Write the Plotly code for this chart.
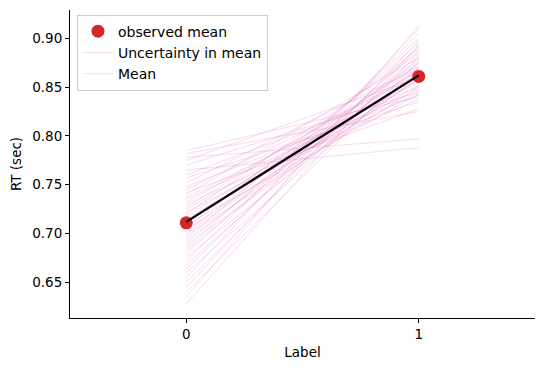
import plotly.graph_objects as go

labels = [0, 1]
observed_mean = [0.711, 0.861]
mean_line = [0.712, 0.862]

sample_start = [0.785, 0.782, 0.778, 0.775, 0.770, 0.765, 0.760, 0.757, 0.752, 0.748,
                0.745, 0.742, 0.740, 0.737, 0.735, 0.732, 0.730, 0.727, 0.725, 0.722,
                0.720, 0.718, 0.715, 0.713, 0.711, 0.709, 0.706, 0.704, 0.702, 0.700,
                0.698, 0.695, 0.693, 0.690, 0.688, 0.685, 0.683, 0.680, 0.676, 0.672,
                0.668, 0.664, 0.660, 0.655, 0.650, 0.645, 0.640, 0.635, 0.628]
sample_end = [0.840, 0.825, 0.797, 0.860, 0.845, 0.788, 0.850, 0.835, 0.870, 0.842,
              0.862, 0.828, 0.880, 0.855, 0.848, 0.866, 0.838, 0.872, 0.858, 0.845,
              0.885, 0.862, 0.852, 0.875, 0.868, 0.843, 0.890, 0.858, 0.878, 0.865,
              0.850, 0.895, 0.870, 0.882, 0.860, 0.900, 0.875, 0.888, 0.866, 0.905,
              0.880, 0.892, 0.870, 0.910, 0.885, 0.898, 0.876, 0.913, 0.893]

pink = "rgba(227,119,194,0.35)"
xs, ys = [], []
for a, b in zip(sample_start[:-1], sample_end[:-1]):
    xs += [labels[0], labels[1], None]
    ys += [a, b, None]

fig = go.Figure()
fig.add_trace(go.Scatter(x=xs, y=ys, mode="lines", line=dict(color=pink, width=0.8),
                         name="Uncertainty in mean", legendrank=2, hoverinfo="skip"))
fig.add_trace(go.Scatter(x=labels, y=[sample_start[-1], sample_end[-1]], mode="lines",
                         line=dict(color=pink, width=0.8), name="Mean", legendrank=3))
fig.add_trace(go.Scatter(x=labels, y=observed_mean, mode="markers",
                         marker=dict(color="#d62728", size=13), name="observed mean", legendrank=1))
fig.add_trace(go.Scatter(x=labels, y=mean_line, mode="lines",
                         line=dict(color="black", width=2.2), showlegend=False))

axis_common = dict(showline=True, linecolor="black", linewidth=1, ticks="outside",
                   ticklen=4, tickcolor="black", showgrid=False, zeroline=False,
                   tickfont=dict(size=13.5, color="black"))
fig.update_layout(
    width=537, height=363,
    margin=dict(l=62, r=10, t=2, b=53),
    plot_bgcolor="white", paper_bgcolor="white",
    font=dict(family="DejaVu Sans", size=13.5, color="black"),
    xaxis=dict(range=[-0.5, 1.5], tickvals=[0, 1], ticktext=["0", "1"],
               title=dict(text="Label", font=dict(size=13.5), standoff=6), **axis_common),
    yaxis=dict(range=[0.6135, 0.929], tickvals=[0.65, 0.70, 0.75, 0.80, 0.85, 0.90],
               tickformat=".2f", title=dict(text="RT (sec)", font=dict(size=13.5), standoff=8),
               **axis_common),
    legend=dict(x=0.015, y=0.985, xanchor="left", yanchor="top", bgcolor="white",
                bordercolor="#cccccc", borderwidth=1, font=dict(size=14),
                tracegroupgap=0, itemwidth=30),
    showlegend=True,
)
fig.write_html("out.html")
